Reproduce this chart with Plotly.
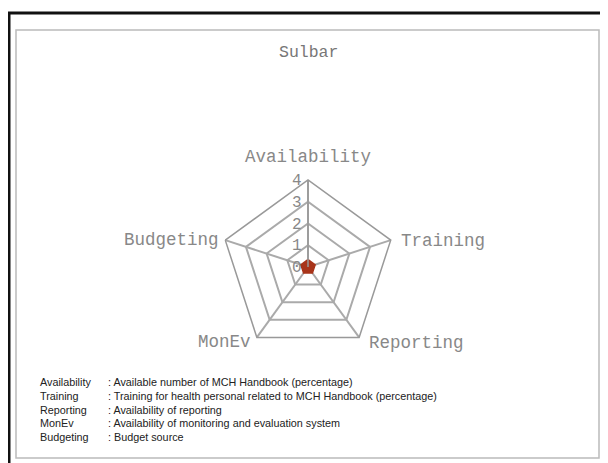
import plotly.graph_objects as go

categories = ["Availability", "Training", "Reporting", "MonEv", "Budgeting"]
values = [0.33, 0.33, 0.33, 0.33, 0.33]
radial_ticks = [0, 1, 2, 3, 4]
legend_names = ["Availability", "Training", "Reporting", "MonEv", "Budgeting"]
legend_desc = [
    "Available number of MCH Handbook (percentage)",
    "Training for health personal related to MCH Handbook (percentage)",
    "Availability of reporting",
    "Availability of monitoring and evaluation system",
    "Budget source",
]

W, H = 608, 463
OFF = 8  # page body margin


def px(X):
    return (X - OFF) / W


def py(Y):
    return 1 - (Y - OFF) / H


cx, cy, R = 308, 267, 87

fig = go.Figure()
fig.add_trace(go.Scatterpolar(
    r=values + [values[0]],
    theta=categories + [categories[0]],
    mode="lines",
    fill="toself",
    fillcolor="#a8341a",
    line=dict(color="#a8341a", width=2),
    showlegend=False,
    hoverinfo="skip",
))

mono = "Liberation Mono, Courier New, monospace"
fig.update_layout(
    width=W, height=H,
    margin=dict(l=0, r=0, t=0, b=0),
    paper_bgcolor="white",
    plot_bgcolor="white",
    showlegend=False,
    polar=dict(
        domain=dict(x=[px(cx - R), px(cx + R)],
                    y=[py(cy + R), py(cy - R)]),
        bgcolor="white",
        gridshape="linear",
        radialaxis=dict(
            range=[0, 4],
            tickvals=radial_ticks,
            ticktext=[str(v) for v in radial_ticks],
            angle=90,
            tickangle=90,
            side="counterclockwise",
            showline=True,
            linecolor="#999999",
            linewidth=1.5,
            gridcolor="#aaaaaa",
            gridwidth=1.5,
            ticks="",
            tickfont=dict(family=mono, size=16, color="#888888"),
        ),
        angularaxis=dict(
            rotation=90,
            direction="clockwise",
            showline=True,
            linecolor="#999999",
            linewidth=1.5,
            gridcolor="#aaaaaa",
            gridwidth=1.5,
            ticks="",
            showticklabels=False,
        ),
    ),
)

shapes = [
    dict(type="rect", xref="paper", yref="paper",
         x0=px(9), x1=1.05, y0=-0.05, y1=py(13),
         line=dict(color="#111111", width=3)),
    dict(type="rect", xref="paper", yref="paper",
         x0=px(16), x1=px(599), y0=py(458), y1=py(30),
         line=dict(color="#bbbbbb", width=1.5)),
]
fig.update_layout(shapes=shapes)

ann = [dict(text="Sulbar", x=px(308), y=py(52), xref="paper", yref="paper",
            showarrow=False, xanchor="center", yanchor="middle",
            font=dict(family=mono, size=16.5, color="#777777"))]

# category labels around the web
label_pos = {
    "Availability": (308, 157, "center"),
    "Training": (399, 241, "left"),
    "Reporting": (367, 343, "left"),
    "MonEv": (253, 342, "right"),
    "Budgeting": (221, 240, "right"),
}
for c in categories:
    X, Y, anc = label_pos[c]
    ann.append(dict(text=c, x=px(X), y=py(Y), xref="paper", yref="paper",
                    showarrow=False, xanchor=anc, yanchor="middle",
                    font=dict(family=mono, size=17.5, color="#888888")))

sans = "Liberation Sans, Arial, sans-serif"
for i, (n, d) in enumerate(zip(legend_names, legend_desc)):
    y = py(382 + i * 13.8)
    ann.append(dict(text=n, x=px(38), y=y, xref="paper", yref="paper",
                    showarrow=False, xanchor="left", yanchor="middle",
                    font=dict(family=sans, size=10.8, color="#222222")))
    ann.append(dict(text=": " + d, x=px(106), y=y, xref="paper", yref="paper",
                    showarrow=False, xanchor="left", yanchor="middle",
                    font=dict(family=sans, size=10.8, color="#222222")))
fig.update_layout(annotations=ann)

fig.write_html("out.html")
